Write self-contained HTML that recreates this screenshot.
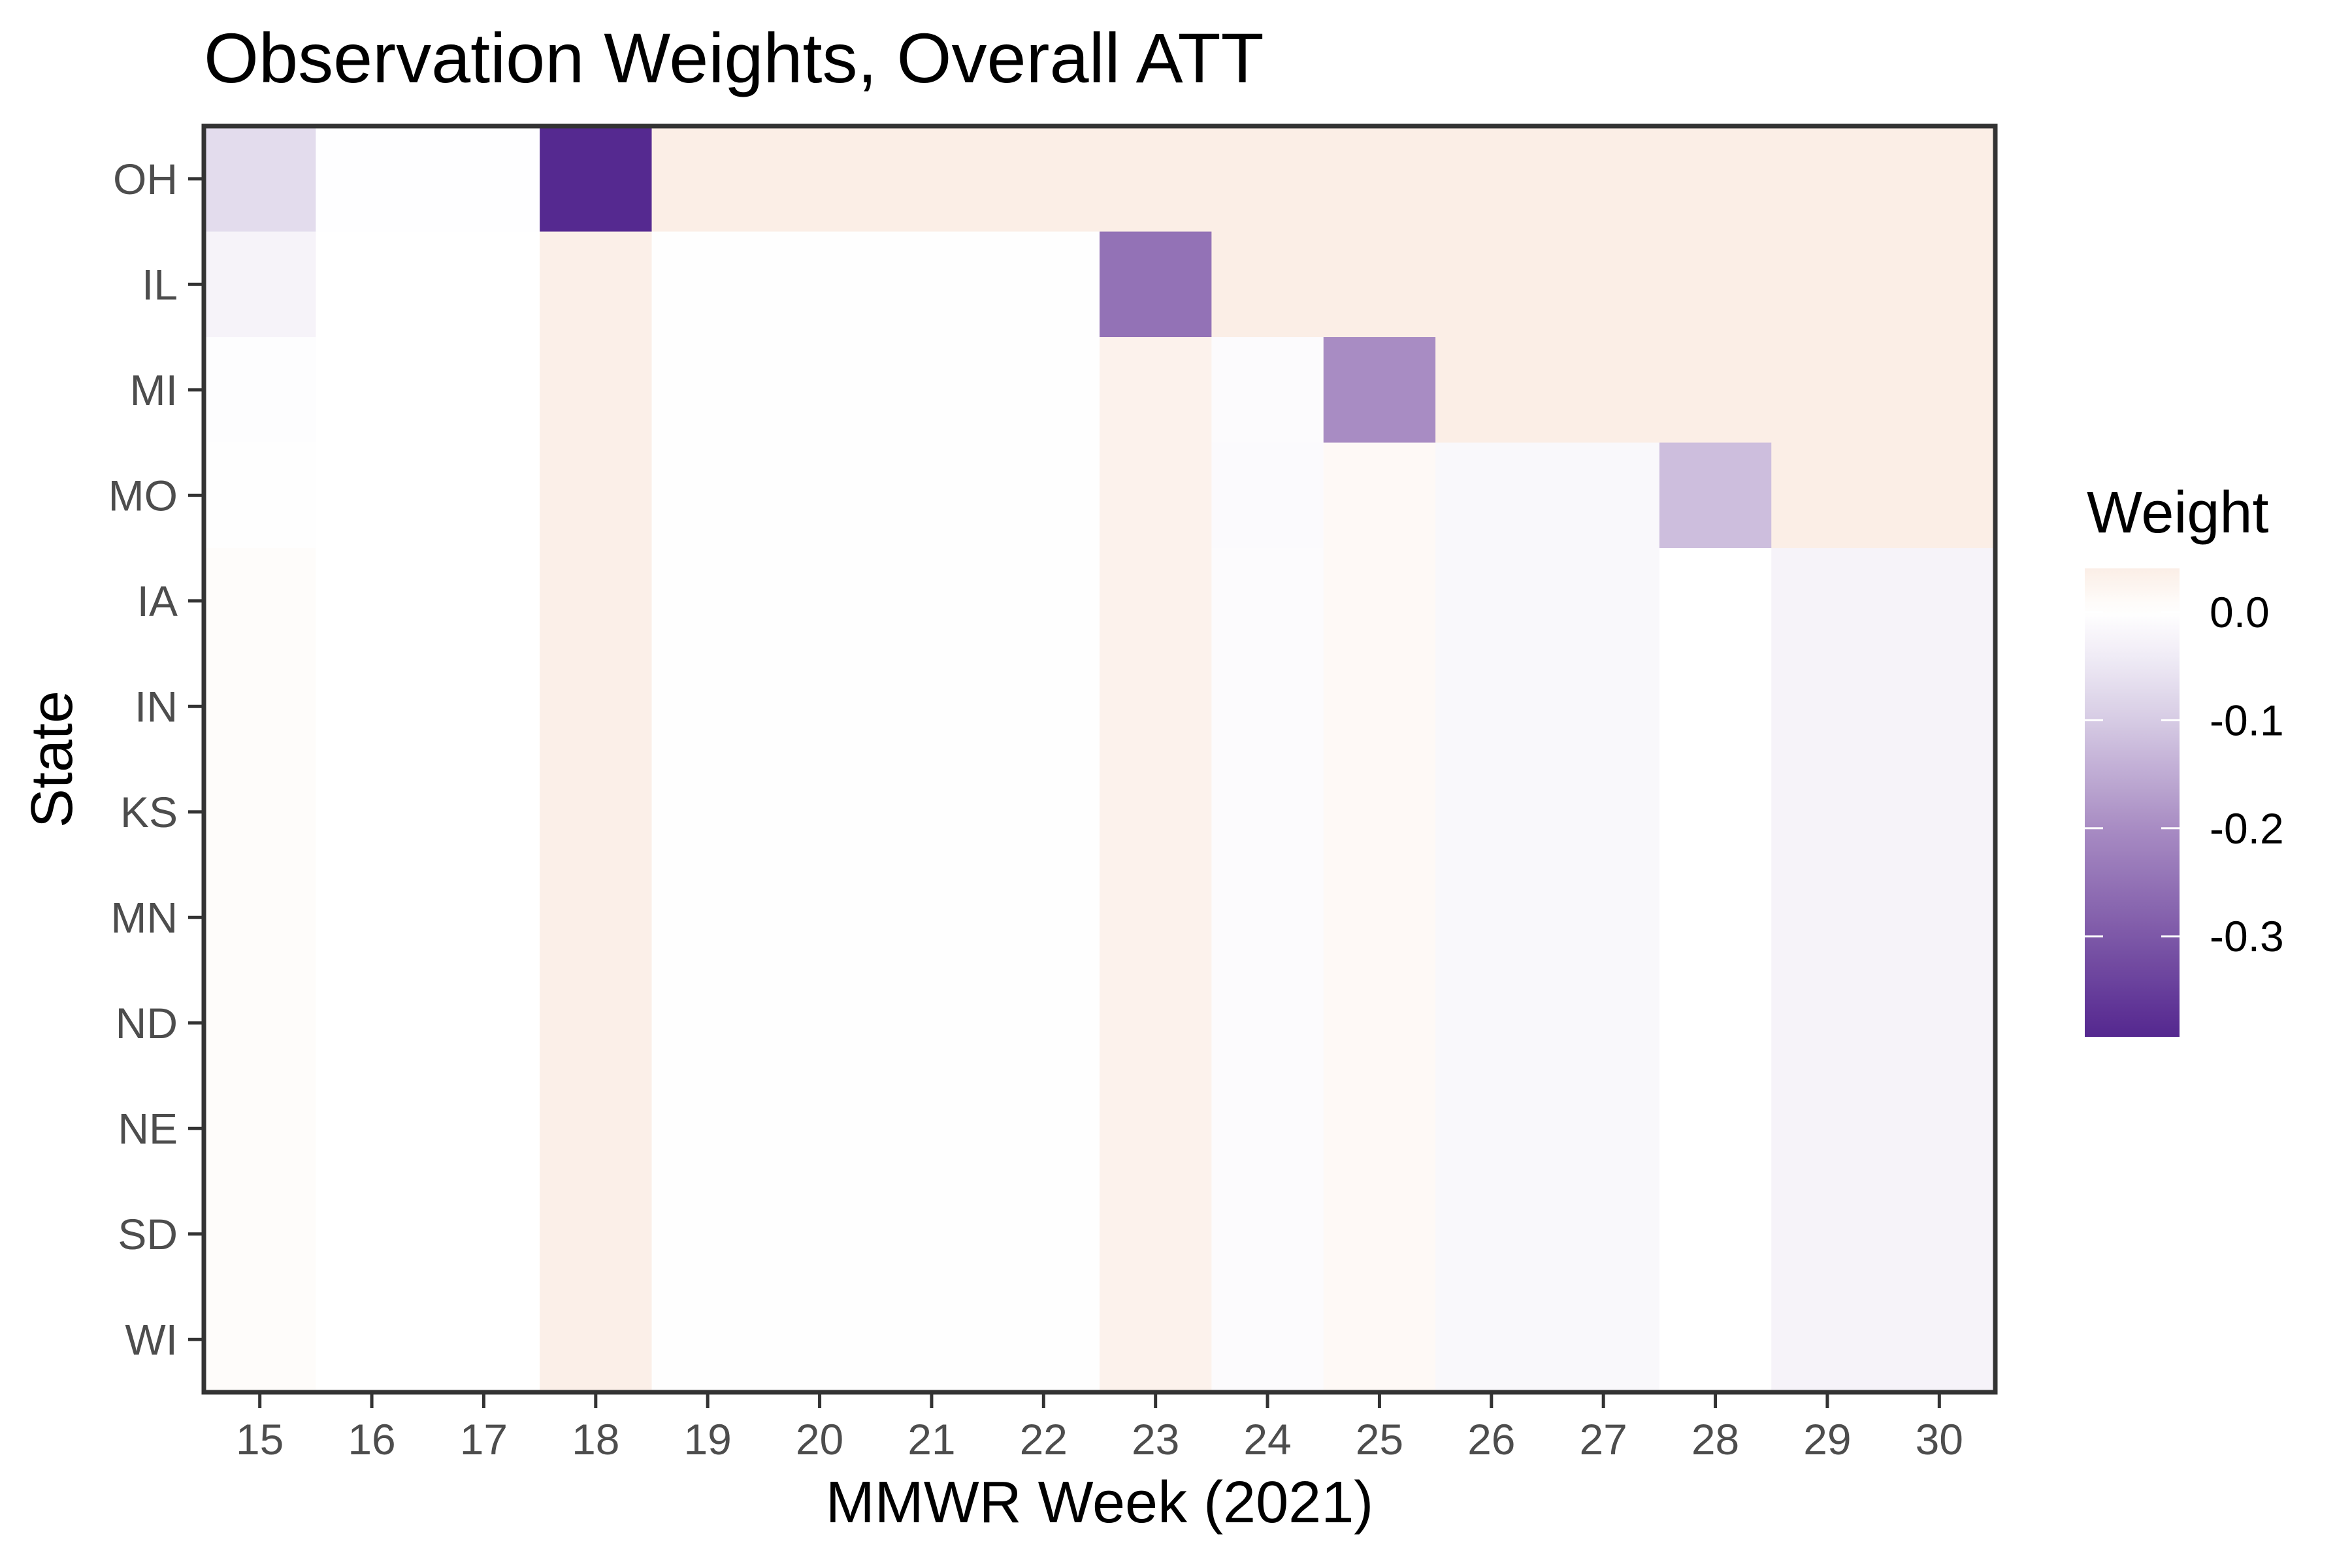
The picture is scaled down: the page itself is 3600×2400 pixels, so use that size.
<!DOCTYPE html>
<html><head><meta charset="utf-8"><style>
body{margin:0;background:#fff}
svg{display:block;font-family:"Liberation Sans",Arial,sans-serif}
</style></head><body>
<svg id="chart" width="3600" height="2400" viewBox="0 0 3600 2400">
<defs>
<linearGradient id="lg" x1="0" y1="0" x2="0" y2="1"></linearGradient>
</defs>
<text x="312" y="126" font-size="108" fill="#000">Observation Weights, Overall ATT</text>
<g id="cells"></g>
<rect x="312" y="193" width="2742" height="1938" fill="none" stroke="#333" stroke-width="7"/>
<g id="axes"></g>
<text x="1683" y="2330" font-size="90" text-anchor="middle" fill="#000">MMWR Week (2021)</text>
<text transform="translate(110,1162) rotate(-90)" font-size="90" text-anchor="middle" fill="#000">State</text>
<text x="3194" y="815" font-size="90" fill="#000">Weight</text>
<g id="legend"></g>
</svg>
<script>
const weeks=[15,16,17,18,19,20,21,22,23,24,25,26,27,28,29,30];
const states=["OH","IL","MI","MO","IA","IN","KS","MN","ND","NE","SD","WI"];
const lowerRow=[0.008,0,0,0.038,-0.003,-0.003,-0.003,-0.003,0.03,-0.008,0.015,-0.015,-0.015,0,-0.025,-0.025];
const weights=[
[-0.07,-0.002,-0.002,-0.39,0.04,0.04,0.04,0.04,0.04,0.04,0.04,0.04,0.04,0.04,0.04,0.04],
[-0.025,0,0,0.038,-0.003,-0.003,-0.003,-0.003,-0.25,0.04,0.04,0.04,0.04,0.04,0.04,0.04],
[-0.005,0,0,0.038,-0.003,-0.003,-0.003,-0.003,0.03,-0.008,-0.2,0.04,0.04,0.04,0.04,0.04],
[-0.003,0,0,0.038,-0.003,-0.003,-0.003,-0.003,0.03,-0.01,0.015,-0.015,-0.015,-0.12,0.04,0.04],
lowerRow,lowerRow,lowerRow,lowerRow,lowerRow,lowerRow,lowerRow,lowerRow
];
const legendTicks=[0,-0.1,-0.2,-0.3];
const legendLabels=["0.0","-0.1","-0.2","-0.3"];
const vmin=-0.393,vmax=0.0405;
const stops=[[-0.393,[84,39,143]],[-0.3,[125,88,168]],[-0.2,[168,140,195]],[-0.1,[214,203,228]],[-0.05,[236,231,243]],[0,[255,255,255]],[0.0405,[251,238,230]]];
function color(v){
  v=Math.max(vmin,Math.min(vmax,v));
  for(let i=0;i<stops.length-1;i++){const a=stops[i],b=stops[i+1];
    if(v<=b[0]){const t=(v-a[0])/(b[0]-a[0]);const c=a[1].map((x,k)=>Math.round(x+(b[1][k]-x)*t));return `rgb(${c})`;}}
  return 'rgb(251,238,230)';
}
const X0=312,Y0=193,W=2742,H=1938,cw=W/weeks.length,ch=H/states.length;
const xs=i=>X0+i*cw, ys=j=>Y0+j*ch;
const NS="http://www.w3.org/2000/svg";
function mk(tag,attrs,parent){const e=document.createElementNS(NS,tag);for(const k in attrs)e.setAttribute(k,attrs[k]);parent.appendChild(e);return e;}
const cells=document.getElementById('cells');
states.forEach((s,j)=>weeks.forEach((w,i)=>{
  const r=mk('rect',{x:xs(i),y:ys(j),width:cw+0.6,height:ch+0.6,fill:color(weights[j][i])},cells);
  
  
}));
const axes=document.getElementById('axes');
weeks.forEach((w,i)=>{
  const cx=xs(i)+cw/2;
  const l=mk('line',{x1:cx,x2:cx,y1:Y0+H+3,y2:Y0+H+24,stroke:'#333','stroke-width':5},axes);
  
  
  const t=mk('text',{x:cx,y:2226,'font-size':66,'text-anchor':'middle',fill:'#4d4d4d'},axes);
  t.textContent=w;
  
  
});
states.forEach((s,j)=>{
  const cy=ys(j)+ch/2;
  const l=mk('line',{x1:X0-24,x2:X0-3,y1:cy,y2:cy,stroke:'#333','stroke-width':5},axes);
  
  
  const t=mk('text',{x:272,y:cy+23,'font-size':66,'text-anchor':'end',fill:'#4d4d4d'},axes);
  t.textContent=s;
  
  
});
const LX=3191,LW=145,LT=870,LB=1587;
const ly=v=>LT+(vmax-v)/(vmax-vmin)*(LB-LT);
const lg=document.getElementById('lg');
for(let k=0;k<=40;k++){const v=vmax-(vmax-vmin)*k/40;mk('stop',{offset:(k/40),'stop-color':color(v)},lg);}
const leg=document.getElementById('legend');
const bar=mk('rect',{x:LX,y:LT,width:LW,height:LB-LT,fill:'url(#lg)'},leg);


legendTicks.forEach((v,k)=>{
  const y=ly(v);
  mk('line',{x1:LX,x2:LX+28,y1:y,y2:y,stroke:'#fff','stroke-width':3},leg);
  mk('line',{x1:LX+LW-28,x2:LX+LW,y1:y,y2:y,stroke:'#fff','stroke-width':3},leg);
  const t=mk('text',{x:3382,y:y+23,'font-size':66,fill:'#000'},leg);
  t.textContent=legendLabels[k];
  
  
});
</script>
</body></html>
